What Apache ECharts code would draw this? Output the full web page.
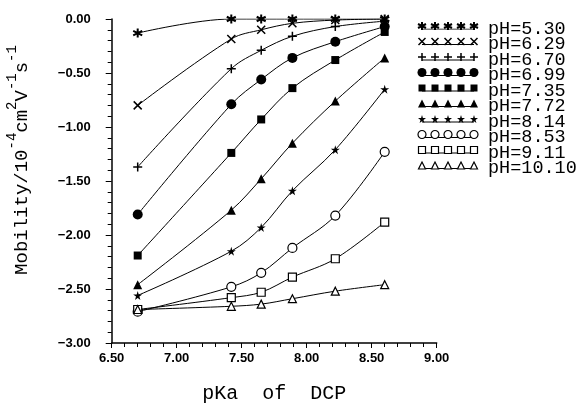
<!DOCTYPE html>
<html>
<head>
<meta charset="utf-8">
<script src="https://cdn.jsdelivr.net/npm/echarts@6/dist/echarts.min.js"></script>
<style>html,body{margin:0;padding:0;background:#fff}#c{width:581px;height:403px}</style>
</head>
<body>
<div id="c"></div>
<script>
// ---- data ----
const pKa = [6.70, 7.42, 7.65, 7.89, 8.22, 8.60];
const pH530  = [-0.13, 0.00, 0.00, 0.00, 0.00, 0.00];
const pH629  = [-0.80, -0.185, -0.10, -0.04, -0.01, 0.00];
const pH670  = [-1.37, -0.46, -0.29, -0.16, -0.07, -0.02];
const pH699  = [-1.81, -0.79, -0.56, -0.36, -0.21, -0.07];
const pH735  = [-2.19, -1.24, -0.93, -0.64, -0.38, -0.12];
const pH772  = [-2.46, -1.77, -1.48, -1.15, -0.76, -0.36];
const pH814  = [-2.56, -2.15, -1.93, -1.59, -1.21, -0.65];
const pH853  = [-2.71, -2.48, -2.35, -2.12, -1.82, -1.23];
const pH911  = [-2.69, -2.58, -2.53, -2.39, -2.22, -1.88];
const pH1010 = [-2.69, -2.66, -2.64, -2.59, -2.52, -2.46];
const seriesNames = ['pH=5.30','pH=6.29','pH=6.70','pH=6.99','pH=7.35','pH=7.72','pH=8.14','pH=8.53','pH=9.11','pH=10.10'];
const seriesValues = [pH530, pH629, pH670, pH699, pH735, pH772, pH814, pH853, pH911, pH1010];
const legendSlots = [0, 1, 2, 3, 4];

// ---- symbols / styles ----
const asterisk = 'path://M5,0L5,10M0.67,2.5L9.33,7.5M0.67,7.5L9.33,2.5';
const cross = 'path://M0,0L10,10M10,0L0,10';
const plus = 'path://M5,0L5,10M0,5L10,5';
const star5 = 'path://M50,0L61,35L98,35L68,57L79,91L50,70L21,91L32,57L2,35L39,35Z';
const styles = [
  {symbol: asterisk, size: 9, fill: 'none', bw: 2},
  {symbol: cross, size: 8, fill: 'none', bw: 1.5},
  {symbol: plus, size: 9, fill: 'none', bw: 1.5},
  {symbol: 'circle', size: 10, fill: '#000', bw: 0},
  {symbol: 'rect', size: 8, fill: '#000', bw: 0},
  {symbol: 'triangle', size: 9, fill: '#000', bw: 0},
  {symbol: star5, size: 9, fill: '#000', bw: 0},
  {symbol: 'circle', size: 9, fill: '#fff', bw: 1.2},
  {symbol: 'rect', size: 8, fill: '#fff', bw: 1.2},
  {symbol: 'triangle', size: 8, fill: '#fff', bw: 1.2}
];

const fmt = v => v.toFixed(2).replace('-', '\u2212');
const tickFont = {fontFamily: 'Liberation Sans', fontWeight: 'bold', fontSize: 13, color: '#000'};

const series = [];
seriesValues.forEach((vals, i) => {
  const st = styles[i];
  series.push({
    name: seriesNames[i], type: 'line', xAxisIndex: 0, yAxisIndex: 0,
    data: pKa.map((x, j) => [x, vals[j]]),
    smooth: 0.35, symbol: st.symbol, symbolSize: st.size, showAllSymbol: true,
    lineStyle: {color: '#000', width: 1},
    itemStyle: {color: st.fill, borderColor: '#000', borderWidth: st.bw},
    z: 3
  });
  // legend row
  series.push({
    name: seriesNames[i] + ' key', type: 'line', xAxisIndex: 1, yAxisIndex: 1,
    data: legendSlots.map(k => [k, seriesNames[i]]),
    symbol: st.symbol, symbolSize: Math.max(7, st.size - 1), symbolOffset: [0, -3],
    lineStyle: {color: '#000', width: 1},
    itemStyle: {color: st.fill, borderColor: '#000', borderWidth: st.bw},
    silent: true
  });
});

const chart = echarts.init(document.getElementById('c'), null, {renderer: 'canvas'});
chart.setOption({
  animation: false,
  backgroundColor: '#fff',
  grid: [
    {left: 111.7, right: 144.3, top: 19, bottom: 60, containLabel: false, outerBoundsMode: 'none'},
    {left: 422, right: 107, top: 29, bottom: 234.5, containLabel: false, outerBoundsMode: 'none'}
  ],
  xAxis: [
    {
      type: 'value', gridIndex: 0, min: 6.5, max: 9.0, interval: 0.5,
      axisLine: {onZero: false, lineStyle: {color: '#000', width: 1.5}},
      axisTick: {show: true, inside: false, length: 5, lineStyle: {color: '#000', width: 1}},
      minorTick: {show: true, splitNumber: 5, length: 4, lineStyle: {color: '#000', width: 1}},
      splitLine: {show: false},
      axisLabel: Object.assign({formatter: v => v.toFixed(2), margin: 9}, tickFont),
      name: 'pKa  of  DCP', nameLocation: 'middle', nameGap: 41,
      nameTextStyle: {fontFamily: 'Liberation Mono', fontSize: 20, color: '#000'}
    },
    {type: 'value', gridIndex: 1, min: 0, max: 4, show: false}
  ],
  yAxis: [
    {
      type: 'value', gridIndex: 0, min: -3, max: 0, interval: 0.5,
      axisLine: {show: true, onZero: false, lineStyle: {color: '#000', width: 1.5}},
      axisTick: {show: true, inside: false, length: 6, lineStyle: {color: '#000', width: 1}},
      minorTick: {show: true, splitNumber: 5, length: 4, lineStyle: {color: '#000', width: 1}},
      splitLine: {show: false},
      axisLabel: Object.assign({formatter: fmt, margin: 21}, tickFont),
      name: '{a|Mobility/10}{s|-4}{a|cm}{s|2}{a|V}{s|-1}{a|s}{s|-1}',
      nameLocation: 'middle', nameRotate: 90, nameGap: 80,
      nameTextStyle: {
        color: '#000',
        padding: [0, 0, 0, 42],
        rich: {
          a: {fontFamily: 'Liberation Mono', fontSize: 19, color: '#000', lineHeight: 26, verticalAlign: 'bottom'},
          s: {fontFamily: 'Liberation Mono', fontSize: 14, color: '#000', lineHeight: 14, verticalAlign: 'top'}
        }
      }
    },
    {
      type: 'category', gridIndex: 1, data: seriesNames, inverse: true, boundaryGap: false,
      position: 'right',
      axisLine: {show: false}, axisTick: {show: false}, splitLine: {show: false},
      axisLabel: {interval: 0, margin: 14, fontFamily: 'Liberation Mono', fontSize: 18.5, color: '#000'}
    }
  ],
  series: series
});
</script>
</body>
</html>
